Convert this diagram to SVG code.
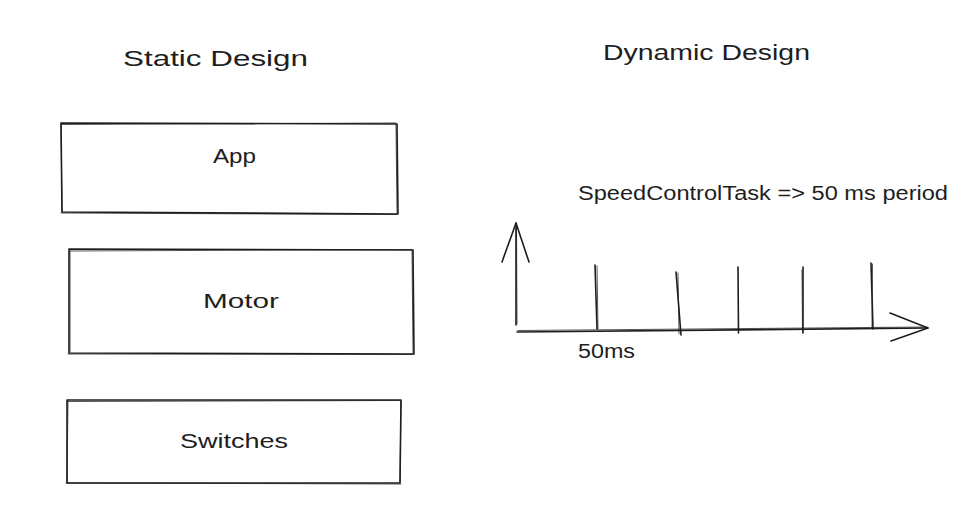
<svg xmlns="http://www.w3.org/2000/svg" width="977" height="506" viewBox="0 0 977 506">
<style>
.bg{fill:#ffffff}
.sk{fill:none;stroke:#1e1e1e;stroke-width:1.6;stroke-linecap:round;stroke-linejoin:round}
.sk2{fill:none;stroke:#1e1e1e;stroke-width:1;stroke-linecap:round;opacity:0.75}
.t{font-family:"Liberation Sans","DejaVu Sans",sans-serif;fill:#1e1e1e}
.title{font-size:22px}
.lbl{font-size:20px}
</style>
<rect class="bg" x="0" y="0" width="977" height="506"/>

<g id="title-static"><text class="t title" x="123" y="66" textLength="185" lengthAdjust="spacingAndGlyphs">Static Design</text></g>
<g id="title-dynamic"><text class="t title" x="603" y="60" textLength="207" lengthAdjust="spacingAndGlyphs">Dynamic Design</text></g>

<g id="node-app">
<path class="sk" d="M61 123 L397 124 L398 214 L62 212 Z"/>
<path class="sk2" d="M62 124.5 L396 123 M396 125 L397 213 M397 214.5 L61 213 M62 212 L61 124"/>
<text class="t lbl" x="213" y="163" textLength="43" lengthAdjust="spacingAndGlyphs">App</text>
</g>

<g id="node-motor">
<path class="sk" d="M69 249 L413 250 L414 354 L69 353 Z"/>
<path class="sk2" d="M70 251 L412 249.5 M412 251 L413 353 M413 354.5 L68 354 M70 352 L70 251"/>
<text class="t lbl" x="203" y="308" textLength="76" lengthAdjust="spacingAndGlyphs">Motor</text>
</g>

<g id="node-switches">
<path class="sk" d="M67 400 L401 400 L400 483 L67 483 Z"/>
<path class="sk2" d="M68 401.5 L400 400.5 M401 401 L400 482 M401 484 L66 483 M67 482 L68 401"/>
<text class="t lbl" x="180" y="448" textLength="108" lengthAdjust="spacingAndGlyphs">Switches</text>
</g>

<g id="label-task"><text class="t lbl" x="578" y="200" textLength="370" lengthAdjust="spacingAndGlyphs">SpeedControlTask =&gt; 50 ms period</text></g>

<g id="connectors">
<path class="sk" d="M516 325 L516 223"/>
<path class="sk2" d="M517 324 L516.5 224"/>
<path class="sk" d="M502 262 L516 223 L529 262"/>
<path class="sk" d="M517 332 L928 328"/>
<path class="sk2" d="M518 330.5 L927 327"/>
<path class="sk" d="M890 313 L928 328 L891 341"/>
</g>

<g id="ticks">
<path class="sk" d="M595 265 L597 329"/>
<path class="sk2" d="M597 266 L598 329"/>
<path class="sk" d="M676 272 L681 335"/>
<path class="sk2" d="M678 273 L679 334"/>
<path class="sk" d="M738 267 L738.5 333"/>
<path class="sk" d="M803 267 L803 333"/>
<path class="sk2" d="M802 270 L802.5 332"/>
<path class="sk" d="M871 263 L873 329"/>
<path class="sk2" d="M872.5 264 L872 328"/>
</g>

<g id="label-50ms"><text class="t lbl" x="578" y="358" textLength="57" lengthAdjust="spacingAndGlyphs">50ms</text></g>
</svg>
